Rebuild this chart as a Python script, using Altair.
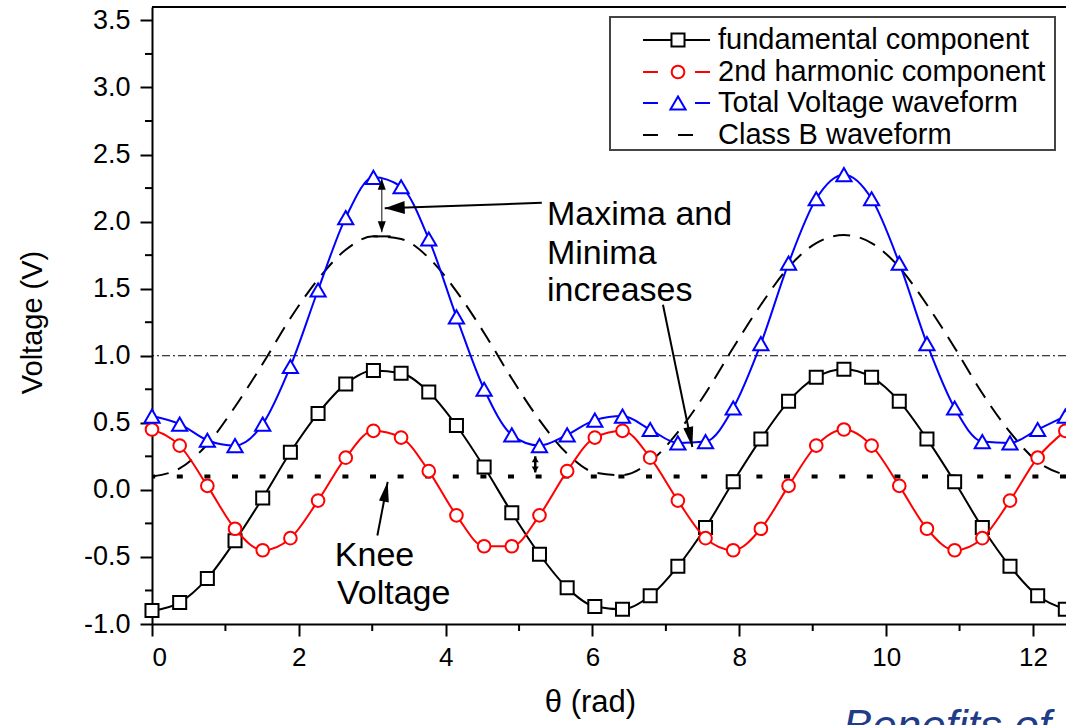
import math
import altair as alt
import pandas as pd

# Sample angles (rad) of the plotted waveforms
theta = [0.0, 0.377, 0.754, 1.131, 1.508, 1.885, 2.262, 2.639, 3.016, 3.393,
         3.770, 4.147, 4.524, 4.901, 5.278, 5.655, 6.032, 6.409, 6.786, 7.163,
         7.540, 7.917, 8.294, 8.671, 9.048, 9.425, 9.802, 10.179, 10.556, 10.933,
         11.310, 11.687, 12.064, 12.441]

fundamental = [-0.90, -0.84, -0.66, -0.38, -0.06, 0.28, 0.57, 0.79, 0.89, 0.87,
               0.73, 0.48, 0.17, -0.17, -0.48, -0.73, -0.87, -0.89, -0.79, -0.57,
               -0.28, 0.06, 0.38, 0.66, 0.84, 0.90, 0.84, 0.66, 0.38, 0.06,
               -0.28, -0.57, -0.79, -0.89]

second_harmonic = [0.45, 0.33, 0.03, -0.29, -0.45, -0.36, -0.08, 0.24, 0.44, 0.39,
                   0.14, -0.19, -0.42, -0.42, -0.19, 0.14, 0.39, 0.44, 0.24, -0.08,
                   -0.36, -0.45, -0.29, 0.03, 0.33, 0.45, 0.33, 0.03, -0.29, -0.45,
                   -0.36, -0.08, 0.24, 0.44]

total_voltage = [0.55, 0.49, 0.37, 0.33, 0.49, 0.92, 1.49, 2.03, 2.33, 2.26,
                 1.87, 1.29, 0.75, 0.41, 0.33, 0.41, 0.52, 0.55, 0.45, 0.35,
                 0.36, 0.61, 1.09, 1.69, 2.17, 2.35, 2.17, 1.69, 1.09, 0.61,
                 0.36, 0.35, 0.45, 0.55]

class_b = [0.10, 0.16, 0.34, 0.62, 0.94, 1.28, 1.57, 1.79, 1.89, 1.87,
           1.73, 1.48, 1.17, 0.83, 0.52, 0.27, 0.13, 0.11, 0.21, 0.43,
           0.72, 1.06, 1.38, 1.66, 1.84, 1.90, 1.84, 1.66, 1.38, 1.06,
           0.72, 0.43, 0.21, 0.11]

supply_level = 1.0
knee_voltage = 0.1

x_ticks = [0, 2, 4, 6, 8, 10, 12]
x_minor = [1, 3, 5, 7, 9, 11]
y_ticks = [-1.0, -0.5, 0.0, 0.5, 1.0, 1.5, 2.0, 2.5, 3.0, 3.5]
y_minor = [-0.75, -0.25, 0.25, 0.75, 1.25, 1.75, 2.25, 2.75, 3.25]

legend_labels = ["fundamental component", "2nd harmonic component",
                 "Total Voltage waveform", "Class B waveform"]

FONT = "Liberation Sans"
W, H = 914, 617
X_DOM = [0, 12.45]
Y_DOM = [-1.0, 3.6]

SQ, CI, TR = 170, 160, 230   # marker areas
MSW = 2.0                    # marker outline width

xs = alt.Scale(domain=X_DOM, nice=False, zero=False)
ys = alt.Scale(domain=Y_DOM, nice=False, zero=False)

x_axis = alt.Axis(values=x_ticks, format="d", title="θ (rad)", grid=False,
                  labelFont=FONT, labelFontSize=26, labelColor="black", labelPadding=8,
                  tickSize=12, tickWidth=2, tickColor="black",
                  domainColor="black", domainWidth=2,
                  titleFont=FONT, titleFontSize=31, titleFontWeight="normal",
                  titleColor="black", titleX=438, titleY=78, titleBaseline="middle")
y_axis = alt.Axis(values=y_ticks, title="Voltage (V)", grid=False,
                  labelExpr="datum.value < 0 ? '-' + format(-datum.value, '.1f') : format(datum.value, '.1f')",
                  labelFont=FONT, labelFontSize=27, labelColor="black", labelPadding=10,
                  tickSize=12, tickWidth=2, tickColor="black",
                  domainColor="black", domainWidth=2,
                  titleFont=FONT, titleFontSize=29, titleFontWeight="normal",
                  titleColor="black", titleX=-120, titleY=315, titleBaseline="middle")

X = alt.X("theta:Q", scale=xs, axis=x_axis)
Y = alt.Y("v:Q", scale=ys, axis=y_axis)
X2 = alt.X2("theta2:Q")
Y2 = alt.Y2("v2:Q")

one = pd.DataFrame({"k": [0]})


def series(values, color, shape, size, marker=True, dash=None):
    d = pd.DataFrame({"theta": theta, "v": values})
    line_kw = dict(color=color, strokeWidth=2, interpolate="monotone")
    if dash:
        line_kw["strokeDash"] = dash
    layers = [alt.Chart(d).mark_line(**line_kw).encode(x=X, y=Y)]
    if marker:
        layers.append(alt.Chart(d).mark_point(shape=shape, size=size, filled=True,
                                              fill="white", stroke=color,
                                              strokeWidth=MSW, opacity=1)
                      .encode(x=X, y=Y))
    return layers


def head_shape(length, width):
    w = width / (2.0 * length)
    return f"M0,0 L{w:.3f},1 L{-w:.3f},1 Z", 4 * length * length


def arrow(t1, v1, t2, v2, head_len, head_w, stroke=2, color="black", both=False):
    seg = pd.DataFrame({"theta": [t1], "v": [v1], "theta2": [t2], "v2": [v2]})
    layers = [alt.Chart(seg).mark_rule(color=color, strokeWidth=stroke)
              .encode(x=X, y=Y, x2=X2, y2=Y2)]
    path, size = head_shape(head_len, head_w)
    ends = [(t1, v1, t2, v2)]
    if both:
        ends.append((t2, v2, t1, v1))
    for a1, b1, a2, b2 in ends:
        dx = (a2 - a1) * W / (X_DOM[1] - X_DOM[0])
        dy = -(b2 - b1) * H / (Y_DOM[1] - Y_DOM[0])
        ang = math.degrees(math.atan2(dx, -dy)) % 360
        tip = pd.DataFrame({"theta": [a2], "v": [b2]})
        layers.append(alt.Chart(tip).mark_point(shape=path, size=size, filled=True,
                                                color="black", opacity=1,
                                                angle=ang, strokeWidth=0)
                      .encode(x=X, y=Y))
    return layers


def label(rows, size=34):
    d = pd.DataFrame(rows, columns=["theta", "v", "txt"])
    return alt.Chart(d).mark_text(font=FONT, fontSize=size, color="black",
                                  align="left", baseline="middle").encode(
        x=X, y=Y, text="txt:N")


layers = []

# frame top edge
layers.append(alt.Chart(one).mark_rule(color="black", strokeWidth=2).encode(
    x=alt.value(0), x2=alt.value(W), y=alt.value(0)))

# minor ticks
layers.append(alt.Chart(pd.DataFrame({"v": y_minor})).mark_rule(color="black", strokeWidth=2)
              .encode(y=Y, x=alt.value(-7), x2=alt.value(0)))
layers.append(alt.Chart(pd.DataFrame({"theta": x_minor})).mark_rule(color="black", strokeWidth=2)
              .encode(x=X, y=alt.value(H), y2=alt.value(H + 7)))

# reference levels
layers.append(alt.Chart(pd.DataFrame({"v": [supply_level]}))
              .mark_rule(color="black", strokeWidth=1, strokeDash=[8, 3, 2, 3]).encode(y=Y))
layers.append(alt.Chart(pd.DataFrame({"v": [knee_voltage]}))
              .mark_rule(color="black", strokeWidth=4, strokeDash=[6, 21.6]).encode(y=Y))

# waveforms
layers += series(class_b, "black", None, None, marker=False, dash=[17, 10])
layers += series(fundamental, "black", "square", SQ)
layers += series(second_harmonic, "#ff0000", "circle", CI)
layers += series(total_voltage, "#0000ff", "triangle-up", TR)

# annotations
layers += arrow(5.31, 2.14, 3.17, 2.10, 20, 13)
layers += arrow(3.13, 2.32, 3.13, 1.92, 11, 8, stroke=1.3, color="#444", both=True)
layers.append(alt.Chart(pd.DataFrame({"theta": [3.01], "v": [1.89], "theta2": [3.25], "v2": [1.89]}))
              .mark_rule(color="black", strokeWidth=2).encode(x=X, y=Y, x2=X2, y2=Y2))
layers += arrow(5.22, 0.25, 5.22, 0.13, 6, 7, stroke=2.5, both=True)
layers += arrow(6.96, 1.38, 7.36, 0.32, 20, 10)
layers += arrow(3.07, -0.34, 3.21, 0.06, 20, 10)

layers.append(label([(5.38, 2.05, "Maxima and"), (5.38, 1.76, "Minima"),
                     (5.38, 1.48, "increases")]))
layers.append(label([(2.49, -0.49, "Knee"), (2.52, -0.78, "Voltage")]))

# legend box
layers.append(alt.Chart(one).mark_rect(fill="white", stroke="#444", strokeWidth=2).encode(
    x=alt.value(458), x2=alt.value(903), y=alt.value(10), y2=alt.value(143)))

legend_rows = [
    ("black", "square", SQ, None),
    ("#ff0000", "circle", CI, [15, 37]),
    ("#0000ff", "triangle-up", TR, [15, 37]),
    ("black", None, None, [15, 20]),
]
row_y = [33, 65, 96, 128]
for (color, shape, size, dash), yy, text in zip(legend_rows, row_y, legend_labels):
    kw = dict(color=color, strokeWidth=2)
    if dash:
        kw["strokeDash"] = dash
    layers.append(alt.Chart(one).mark_rule(**kw).encode(
        x=alt.value(491), x2=alt.value(558), y=alt.value(yy)))
    if shape:
        layers.append(alt.Chart(one).mark_point(shape=shape, size=size, filled=True,
                                                fill="white", stroke=color,
                                                strokeWidth=MSW, opacity=1).encode(
            x=alt.value(526), y=alt.value(yy)))
    layers.append(alt.Chart(one).mark_text(font=FONT, fontSize=29, color="black",
                                           align="left", baseline="middle").encode(
        x=alt.value(566), y=alt.value(yy), text=alt.value(text)))

# caption running off the bottom edge
layers.append(alt.Chart(one).mark_text(font=FONT, fontSize=44, fontStyle="italic",
                                       color="#1f3c88", align="left",
                                       baseline="alphabetic").encode(
    x=alt.value(691), y=alt.value(734), text=alt.value("Benefits of")))

chart = alt.layer(*layers).properties(
    width=W, height=H,
    autosize=alt.AutoSizeParams(type="none"),
    padding={"left": 152, "top": 7, "right": 0, "bottom": 101},
).configure_view(stroke=None).configure(background="white")

chart.save("out.html", embed_options={"renderer": "svg", "actions": False})
